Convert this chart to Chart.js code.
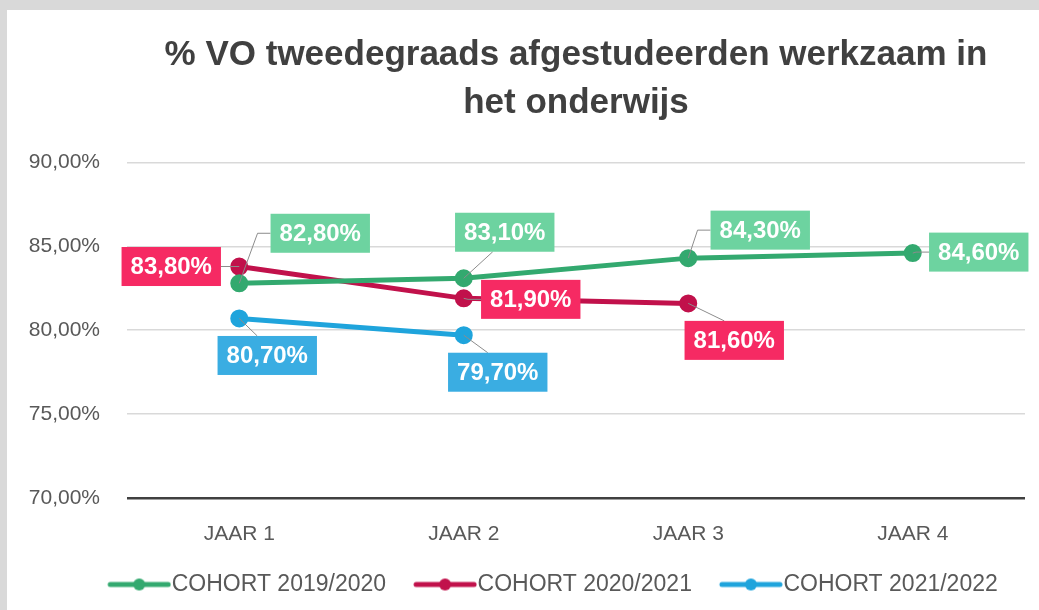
<!DOCTYPE html>
<html>
<head>
<meta charset="utf-8">
<script src="https://cdn.jsdelivr.net/npm/chart.js@4.4.1/dist/chart.umd.min.js"></script>
<style>
  html, body { margin: 0; padding: 0; background: #d9d9d9; }
  #wrap { position: absolute; left: 7px; top: 10px; width: 1032px; height: 600px; background: #fff; }
</style>
</head>
<body>
<div id="wrap"><canvas id="chart" width="1032" height="600"></canvas></div>
<script>
const categories = ["JAAR 1", "JAAR 2", "JAAR 3", "JAAR 4"];
const seriesNames = ["COHORT 2019/2020", "COHORT 2020/2021", "COHORT 2021/2022"];
const cohort1920 = [82.8, 83.1, 84.3, 84.6];
const cohort2021 = [83.8, 81.9, 81.6, null];
const cohort2122 = [80.7, 79.7, null, null];
const yTicks = [70, 75, 80, 85, 90];

const lineColors = ["#33a96f", "#c1114b", "#1fa4dc"];
const boxColors = ["#6dd3a0", "#f62a63", "#3aade2"];

// box centre offsets from each point, like the hand-placed labels in the original
const labelOffsets = [
  [[81, -50], [41, -46], [72, -28], [66, -1]],
  [[-68, 0], [67, 1], [46, 37], null],
  [[28, 37], [34, 37], null, null]
];

function pct(v, d) {
  return v.toFixed(d).replace(".", ",") + "%";
}

// legend marker: line with dot, pushed to the right so it sits close to the text
function legendIcon(color) {
  const c = document.createElement("canvas");
  c.width = 92; c.height = 14;
  const g = c.getContext("2d");
  g.strokeStyle = color; g.lineWidth = 5; g.lineCap = "round";
  g.beginPath(); g.moveTo(31, 7); g.lineTo(89, 7); g.stroke();
  g.fillStyle = color;
  g.beginPath(); g.arc(60, 7, 6, 0, Math.PI * 2); g.fill();
  return c;
}

const boxLabels = {
  id: "boxLabels",
  afterLayout(chart) {
    // legend sits a bit right of the canvas centre in the original
    chart.legend.left += 56;
  },
  afterDatasetsDraw(chart, args, opts) {
    const ctx = chart.ctx;
    ctx.save();
    ctx.font = opts.font;
    chart.data.datasets.forEach((ds, i) => {
      chart.getDatasetMeta(i).data.forEach((pt, j) => {
        const v = ds.data[j];
        const off = opts.offsets[i][j];
        if (v == null || !off) return;
        const text = pct(v, 2);
        const w = ctx.measureText(text).width + opts.padX * 2;
        const h = opts.boxHeight;
        const cx = pt.x + off[0], cy = pt.y + off[1];
        const l = cx - w / 2, r = cx + w / 2, t = cy - h / 2, b = cy + h / 2;

        ctx.strokeStyle = "#8c8c8c";
        ctx.lineWidth = 1;
        ctx.beginPath();
        if (pt.x < l) {
          ctx.moveTo(pt.x, pt.y); ctx.lineTo(l - 13, cy); ctx.lineTo(l, cy);
        } else if (pt.x > r) {
          ctx.moveTo(pt.x, pt.y); ctx.lineTo(r + 13, cy); ctx.lineTo(r, cy);
        } else if (pt.y < t) {
          ctx.moveTo(pt.x, pt.y); ctx.lineTo(cx - 10, t);
        } else {
          ctx.moveTo(pt.x, pt.y); ctx.lineTo(cx - 12, b);
        }
        ctx.stroke();

        ctx.fillStyle = opts.colors[i];
        ctx.fillRect(l, t, w, h);
        ctx.fillStyle = "#fff";
        ctx.textAlign = "center";
        ctx.textBaseline = "middle";
        ctx.fillText(text, cx, cy + 1);
      });
    });
    ctx.restore();
  }
};

const seriesData = [cohort1920, cohort2021, cohort2122];

new Chart(document.getElementById("chart"), {
  type: "line",
  data: {
    labels: categories,
    datasets: seriesData.map((d, i) => ({
      label: seriesNames[i],
      data: d,
      borderColor: lineColors[i],
      backgroundColor: lineColors[i],
      borderWidth: 5,
      pointStyle: "circle",
      pointRadius: 6.5,
      pointHoverRadius: 6.5,
      spanGaps: false
    }))
  },
  options: {
    responsive: false,
    animation: false,
    layout: { padding: { left: 0, right: 14, top: 0, bottom: 4 } },
    plugins: {
      tooltip: { enabled: false },
      title: {
        display: true,
        fullSize: false,
        text: ["% VO tweedegraads afgestudeerden werkzaam in", "het onderwijs"],
        color: "#404040",
        font: { family: "Liberation Sans", size: 35, weight: "bold", lineHeight: 1.38 },
        padding: { top: 21, bottom: 35 }
      },
      legend: {
        position: "bottom",
        labels: {
          usePointStyle: true,
          pointStyleWidth: 70,
          color: "#595959",
          font: { family: "Liberation Sans", size: 23 },
          padding: 10,
          generateLabels(chart) {
            return chart.data.datasets.map((ds, i) => ({
              text: ds.label,
              pointStyle: legendIcon(lineColors[i]),
              fillStyle: lineColors[i],
              strokeStyle: lineColors[i],
              lineWidth: 0,
              datasetIndex: i,
              fontColor: "#595959"
            }));
          }
        }
      },
      boxLabels: {
        offsets: labelOffsets,
        colors: boxColors,
        font: "bold 24px 'Liberation Sans'",
        padX: 9,
        boxHeight: 39
      }
    },
    scales: {
      x: {
        offset: true,
        grid: { display: false },
        border: { display: false },
        ticks: { color: "#595959", font: { family: "Liberation Sans", size: 21 }, padding: 16 }
      },
      y: {
        min: yTicks[0],
        max: yTicks[yTicks.length - 1],
        afterBuildTicks(axis) { axis.ticks = yTicks.map(v => ({ value: v })); },
        afterFit(axis) { axis.width = 120; },
        border: { display: false },
        grid: {
          drawTicks: false,
          color: c => c.tick && c.tick.value === yTicks[0] ? "#404040" : "#d9d9d9",
          lineWidth: c => c.tick && c.tick.value === yTicks[0] ? 2.5 : 1.5
        },
        ticks: {
          color: "#595959",
          font: { family: "Liberation Sans", size: 21 },
          padding: 27,
          callback: v => pct(v, 2)
        }
      }
    }
  },
  plugins: [boxLabels]
});
</script>
</body>
</html>
